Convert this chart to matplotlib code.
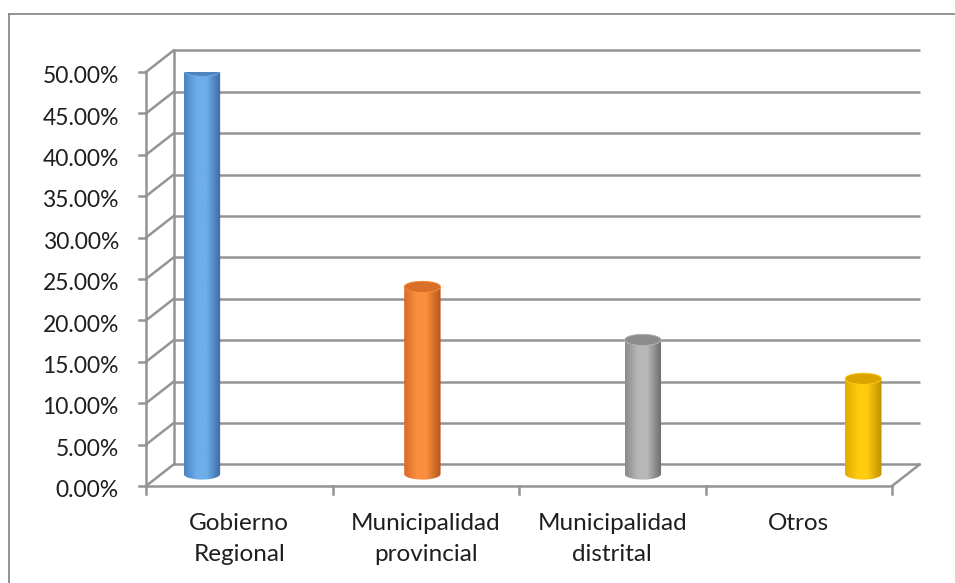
import numpy as np
import matplotlib.pyplot as plt
from matplotlib.patches import Polygon, Ellipse
from matplotlib.colors import LinearSegmentedColormap
from matplotlib.lines import Line2D

plt.rcParams['font.family'] = ['Lato', 'DejaVu Sans']

# datos
categorias = ['Gobierno\nRegional', 'Municipalidad\nprovincial', 'Municipalidad\ndistrital', 'Otros']
valores = [48.7, 22.6, 16.2, 11.5]
ticks_y = np.arange(0, 55, 5)

# colores de cada cilindro: (borde izq, brillo, borde der, tapa)
colores = [
    ('#4a84c2', '#6eaeea', '#3a6aa0', '#4d84bd'),
    ('#d8692a', '#fb8f3e', '#b4561c', '#d9702a'),
    ('#8a8a8a', '#b8b8b8', '#6a6a6a', '#8c8c8c'),
    ('#e0aa00', '#ffcc10', '#bf8e00', '#dca400'),
]

fig = plt.figure(figsize=(9.55, 5.83), dpi=100)
W, H = 955, 583
ax = fig.add_axes([146 / W, 1 - 486 / H, (892 - 146) / W, (486 - 72) / H])
ax.axis('off')
ax.set_xlim(0, len(categorias))
ax.set_ylim(0, 50)
rend = fig.canvas.get_renderer()


def ajustar(txt, ancho_px):
    # escala el tamano de letra para que el texto ocupe el ancho del original
    w = txt.get_window_extent(rend).width
    txt.set_fontsize(txt.get_fontsize() * ancho_px / w)


n = len(categorias)
dx, dy = 0.148, 2.6   # desplazamiento de profundidad (pared de fondo)
gris = '#949494'
lw = 1.8
color_txt = '#1e1e1e'

# pared de fondo y pared izquierda
for t in ticks_y:
    ax.plot([dx, n + dx], [t + dy, t + dy], color=gris, lw=lw, clip_on=False, solid_capstyle='butt')
    ax.plot([0, dx], [t, t], color='none')
    ax.plot([0, dx], [t, t + dy], color=gris, lw=lw, clip_on=False)
    ax.plot([-0.035, 0], [t, t], color=gris, lw=lw, clip_on=False)

etiq_y = []
for t in ticks_y:
    etiq_y.append(ax.text(-0.145, t - 1.35, f'{t:.2f}%', ha='right', va='baseline',
                          fontsize=16, color=color_txt))
fs_ref = ax.text(0, 0, '10.00%', fontsize=16)
ajustar(fs_ref, 77)
fs_y = fs_ref.get_fontsize()
fs_ref.remove()
for e in etiq_y:
    e.set_fontsize(fs_y)

ax.plot([dx, dx], [dy, ticks_y[-1] + dy], color=gris, lw=lw, clip_on=False)
ax.plot([0, 0], [0, ticks_y[-1]], color=gris, lw=lw, clip_on=False)
# piso
ax.plot([0, n], [0, 0], color=gris, lw=lw, clip_on=False)
ax.plot([n, n + dx], [0, dy], color=gris, lw=lw, clip_on=False)
for i in range(n + 1):
    ax.plot([i, i], [0, -1.0], color=gris, lw=lw, clip_on=False)

# cilindros (en perspectiva se separan un poco mas que las categorias)
ancho = 0.195
eh = 1.35
base = 1.45
pos = [0.30 + i * 1.182 for i in range(n)]
th = np.linspace(0, np.pi, 60)
for xc, v, (c1, c2, c3, ctop) in zip(pos, valores, colores):
    top = base + v
    rx = ancho / 2
    bot_arc = np.column_stack([xc - rx * np.cos(th), base - eh / 2 * np.sin(th)])
    top_arc = np.column_stack([xc + rx * np.cos(th), top + eh / 2 * np.sin(th)])
    poly = Polygon(np.vstack([bot_arc, top_arc]), closed=True, facecolor='none', edgecolor='none')
    ax.add_patch(poly)
    cmap = LinearSegmentedColormap.from_list('c', [(0, c1), (0.35, c2), (0.6, c2), (1, c3)])
    grad = np.linspace(0, 1, 256).reshape(1, -1)
    im = ax.imshow(grad, extent=[xc - rx, xc + rx, base - eh, top + eh], aspect='auto',
                   cmap=cmap, origin='lower', zorder=3)
    im.set_clip_path(poly)
    ax.add_patch(Ellipse((xc, top), ancho, eh, facecolor=ctop, edgecolor=c2, lw=0.6, zorder=4))

# etiquetas de categoria (una linea por renglon)
fs_ref = ax.text(0, 0, 'Municipalidad', fontsize=16)
ajustar(fs_ref, 150)
fs_x = fs_ref.get_fontsize()
fs_ref.remove()
for i, lab in enumerate(categorias):
    for k, linea in enumerate(lab.split('\n')):
        ax.text(i + 0.5, -5.3 - k * 3.75, linea, ha='center', va='baseline',
                fontsize=fs_x, color=color_txt)

ax.set_xlim(0, n)
ax.set_ylim(0, 50)

# borde del area del grafico
fig.add_artist(Line2D([8.5 / W, 8.5 / W], [0, 1 - 13.5 / H], color='#8a8a8a', lw=1.3))
fig.add_artist(Line2D([8.5 / W, 1], [1 - 13.5 / H, 1 - 13.5 / H], color='#8a8a8a', lw=1.3))

fig.savefig('out.png', dpi=100)
